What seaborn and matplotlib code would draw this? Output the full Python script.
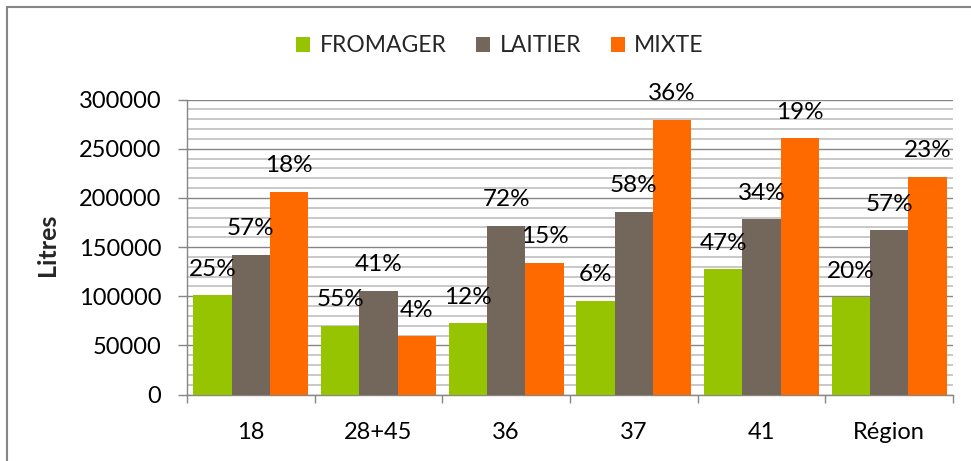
import matplotlib
matplotlib.use("Agg")
import matplotlib.pyplot as plt
from matplotlib.lines import Line2D
from matplotlib.ticker import MultipleLocator, FixedLocator
import seaborn as sns
import pandas as pd
import numpy as np

categories = ["18", "28+45", "36", "37", "41", "Région"]
series = ["FROMAGER", "LAITIER", "MIXTE"]
fromager = [101000, 69700, 72400, 95400, 127300, 98800]
laitier = [142200, 105600, 171700, 185900, 178200, 167300]
mixte = [206200, 59200, 134000, 279200, 260500, 221500]
pct_fromager = ["25%", "55%", "12%", "6%", "47%", "20%"]
pct_laitier = ["57%", "41%", "72%", "58%", "34%", "57%"]
pct_mixte = ["18%", "4%", "15%", "36%", "19%", "23%"]
colors = ["#97C400", "#72675A", "#FF6A00"]

rows = []
for s, vals, pcts in zip(series, [fromager, laitier, mixte], [pct_fromager, pct_laitier, pct_mixte]):
    for c, v, p in zip(categories, vals, pcts):
        rows.append({"cat": c, "serie": s, "val": v, "pct": p})
df = pd.DataFrame(rows)

sns.set_theme(style="white")
plt.rcParams["font.family"] = ["Lato", "DejaVu Sans"]

W, H = 971, 461
fig = plt.figure(figsize=(W / 100, H / 100), dpi=100)
ax = fig.add_axes([187 / W, 1 - 394.5 / H, (953 - 187) / W, (394.5 - 99.5) / H])

sns.barplot(data=df, x="cat", y="val", hue="serie", order=categories, hue_order=series,
            palette=colors, width=0.9, ax=ax, saturation=1, edgecolor="none", linewidth=0,
            legend=False, zorder=3)

ax.set_xlim(-0.5, len(categories) - 0.5)
ax.set_ylim(0, 300000)
ax.yaxis.set_major_locator(MultipleLocator(50000))
ax.yaxis.set_minor_locator(MultipleLocator(10000))
ax.grid(which="minor", axis="y", color="#c4c4c4", linewidth=1.3, zorder=0)
ax.grid(which="major", axis="y", color="#868686", linewidth=1.0, zorder=0)
ax.grid(which="both", axis="x", visible=False)
ax.set_axisbelow(True)

for side in ["top", "right"]:
    ax.spines[side].set_visible(False)
for side in ["left", "bottom"]:
    ax.spines[side].set_color("#868686")
    ax.spines[side].set_linewidth(1.0)

ax.xaxis.set_minor_locator(FixedLocator(np.arange(-0.5, len(categories), 1.0)))
ax.tick_params(axis="x", which="major", length=0, pad=20, labelsize=17, labelcolor="black")
ax.tick_params(axis="x", which="minor", length=6, width=1, color="#868686", direction="out", bottom=True)
ax.tick_params(axis="y", which="major", length=6.5, width=1, color="#868686", direction="out",
               pad=12, labelsize=17, labelcolor="black", left=True)
ax.tick_params(axis="y", which="minor", length=0)
ax.set_xlabel("")
ax.set_ylabel("")

# percent labels
for i, (s, vals, pcts) in enumerate(zip(series, [fromager, laitier, mixte],
                                        [pct_fromager, pct_laitier, pct_mixte])):
    cont = ax.containers[i]
    for bar, p in zip(cont, pcts):
        xc = bar.get_x() + bar.get_width() / 2
        ax.annotate(p, (xc, bar.get_height()), xytext=(0, 18.7), textcoords="offset points",
                    ha="center", va="center", fontsize=17.5, color="black", zorder=5,
                    annotation_clip=False)

fig.text(47 / W, 1 - 245 / H, "Litres", rotation=90, ha="center", va="center",
         fontsize=18, fontweight="bold")

handles = [plt.Rectangle((0, 0), 1, 1, facecolor=c, edgecolor="none") for c in colors]
fig.legend(handles, series, loc="center", bbox_to_anchor=(500 / W, 1 - 46 / H), ncol=3,
           frameon=False, fontsize=16.5, handlelength=0.62, handleheight=0.62,
           handletextpad=0.4, columnspacing=1.3)

# outer chart border (top and left visible)
fig.add_artist(Line2D([7 / W, 1], [1 - 7 / H, 1 - 7 / H], color="#868686", linewidth=1.5,
                      transform=fig.transFigure))
fig.add_artist(Line2D([7 / W, 7 / W], [1 - 7 / H, 0], color="#868686", linewidth=1.5,
                      transform=fig.transFigure))

fig.savefig("out.png", dpi=100)
